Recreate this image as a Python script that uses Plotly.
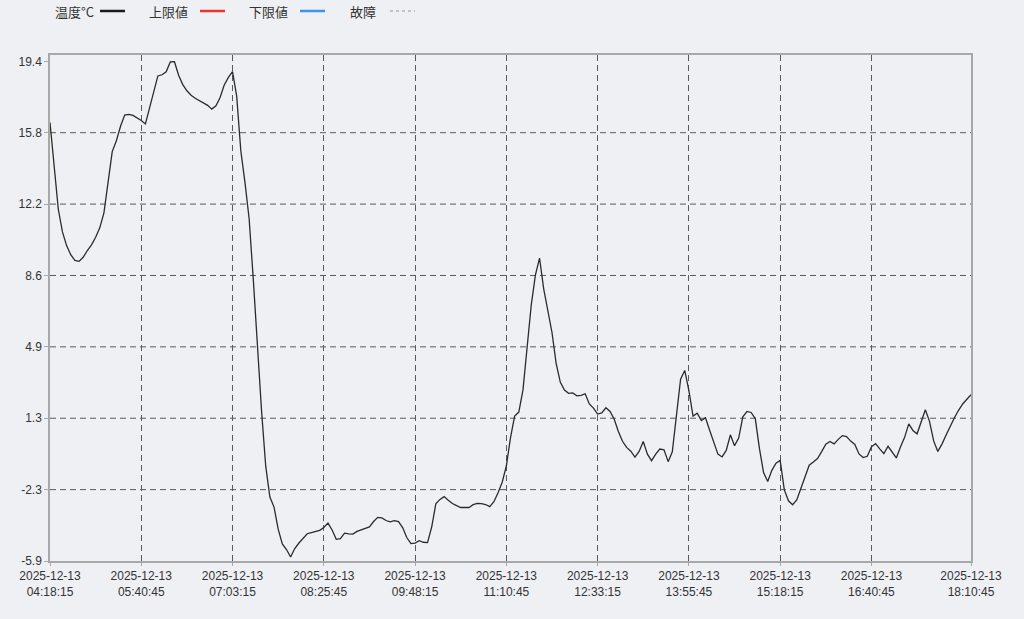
import pandas as pd
import plotly.graph_objects as go

# ---- data ----
start_time = "2025-12-13 04:18:15"
end_time = "2025-12-13 18:10:45"
step_minutes = 3.75

temperature = [
    16.30, 14.27, 11.91, 10.76, 10.07, 9.61, 9.32, 9.27, 9.48, 9.82,
    10.11, 10.49, 10.97, 11.73, 13.30, 14.83, 15.38, 16.11, 16.68, 16.71,
    16.66, 16.54, 16.40, 16.23, 17.03, 17.97, 18.66, 18.72, 18.87, 19.37,
    19.38, 18.70, 18.22, 17.91, 17.68, 17.53, 17.41, 17.29, 17.17, 16.98,
    17.15, 17.57, 18.20, 18.59, 18.88, 17.64, 14.86, 13.26, 11.43, 8.37,
    4.96, 1.68, -1.10, -2.66, -3.17, -4.29, -5.04, -5.32, -5.70, -5.27,
    -4.99, -4.75, -4.52, -4.46, -4.42, -4.35, -4.20, -3.98, -4.33, -4.80,
    -4.77, -4.49, -4.53, -4.54, -4.40, -4.33, -4.28, -4.17, -3.90, -3.69,
    -3.72, -3.85, -3.92, -3.86, -3.91, -4.21, -4.71, -5.02, -4.99, -4.87,
    -4.95, -4.97, -4.18, -3.01, -2.78, -2.64, -2.82, -2.99, -3.10, -3.19,
    -3.19, -3.19, -3.05, -2.98, -2.99, -3.04, -3.15, -2.90, -2.44, -1.91,
    -1.09, 0.35, 1.44, 1.64, 2.75, 5.11, 7.06, 8.57, 9.44, 7.88,
    6.77, 5.67, 4.11, 3.16, 2.76, 2.59, 2.61, 2.46, 2.49, 2.57,
    2.05, 1.84, 1.54, 1.60, 1.86, 1.67, 1.28, 0.66, 0.16, -0.15,
    -0.34, -0.64, -0.35, 0.15, -0.49, -0.82, -0.49, -0.23, -0.27, -0.87,
    -0.37, 1.35, 3.30, 3.75, 2.73, 1.44, 1.58, 1.21, 1.35, 0.72,
    0.11, -0.49, -0.63, -0.30, 0.49, -0.06, 0.32, 1.40, 1.67, 1.62,
    1.31, -0.20, -1.42, -1.87, -1.31, -0.95, -0.81, -2.30, -2.85, -3.05,
    -2.81, -2.25, -1.64, -1.05, -0.89, -0.71, -0.36, 0.01, 0.15, 0.03,
    0.26, 0.45, 0.40, 0.17, 0.00, -0.48, -0.66, -0.60, -0.12, 0.04,
    -0.22, -0.46, -0.09, -0.42, -0.68, -0.13, 0.36, 1.04, 0.71, 0.54,
    1.18, 1.76, 1.17, 0.18, -0.35, 0.02, 0.48, 0.93, 1.35, 1.73,
    2.05, 2.29, 2.52,
]

y_tick_values = [-5.9, -2.3, 1.3, 4.9, 8.6, 12.2, 15.8, 19.4]
y_min, y_max = -5.9, 19.4
y_tick_positions = [y_min + i * (y_max - y_min) / 7 for i in range(8)]

x_tick_times = [
    "2025-12-13 04:18:15", "2025-12-13 05:40:45", "2025-12-13 07:03:15",
    "2025-12-13 08:25:45", "2025-12-13 09:48:15", "2025-12-13 11:10:45",
    "2025-12-13 12:33:15", "2025-12-13 13:55:45", "2025-12-13 15:18:15",
    "2025-12-13 16:40:45", "2025-12-13 18:10:45",
]

legend_names = ["温度°C", "上限値", "下限値", "故障"]
legend_colors = ["#1a1a1a", "#e8332e", "#3d95e8", "#b5b5b5"]
legend_dash = ["solid", "solid", "solid", "dot"]

# ---- figure ----
times = pd.date_range(start=start_time, periods=len(temperature),
                      freq=pd.Timedelta(minutes=step_minutes))

BG = "#eff0f4"
TXT = "#333333"
GRID = "#5a5a5a"
FRAME = "#a8a8a8"
DASH = "6px,4px"
y_range = [y_min, 19.72]

fig = go.Figure()
fig.add_trace(go.Scatter(
    x=times, y=temperature, mode="lines", name=legend_names[0],
    line=dict(color="#2b2b2b", width=1.3), showlegend=False,
))

tick_text = [t.replace(" ", "<br>") for t in x_tick_times]

fig.update_layout(
    width=1024, height=619,
    paper_bgcolor=BG, plot_bgcolor=BG,
    margin=dict(l=50, r=53, t=55, b=58),
    font=dict(family="Liberation Sans, Arial, sans-serif", size=12, color=TXT),
    showlegend=False,
    xaxis=dict(
        type="date",
        range=[start_time, end_time],
        tickmode="array", tickvals=x_tick_times, ticktext=tick_text,
        showgrid=True, gridcolor=GRID, griddash=DASH, gridwidth=1,
        showline=True, linecolor=FRAME, linewidth=1.5, mirror=True,
        ticks="outside", ticklen=3, tickcolor=FRAME,
        zeroline=False,
        tickfont=dict(size=12, color=TXT),
    ),
    yaxis=dict(
        range=y_range,
        tickmode="array", tickvals=y_tick_positions,
        ticktext=[f"{v:.1f}" for v in y_tick_values],
        showgrid=False,
        showline=True, linecolor=FRAME, linewidth=1.5, mirror=True,
        ticks="outside", ticklen=4, tickcolor=FRAME,
        zeroline=False,
        tickfont=dict(size=12, color=TXT),
    ),
)

# horizontal dashed grid lines only at the interior y ticks (none at 19.4)
for yv in y_tick_positions[1:-1]:
    fig.add_hline(y=yv, line=dict(color=GRID, width=1, dash=DASH), layer="below")

# custom legend: text followed by line sample (paper coordinates)
legend_text_right = [96, 190, 290, 378]   # pixel x where text ends
legend_line_start = [100, 200, 300, 390]
legend_line_len = 25
plot_left, plot_w = 50, 921
plot_bottom, plot_h = 561, 506
legend_py = 11

def px_to_paper_x(px):
    return (px - plot_left) / plot_w

def py_to_paper_y(py):
    return (plot_bottom - py) / plot_h

for name, color, dash, tr, ls in zip(legend_names, legend_colors, legend_dash,
                                     legend_text_right, legend_line_start):
    fig.add_annotation(
        x=px_to_paper_x(tr), y=py_to_paper_y(legend_py), xref="paper", yref="paper",
        text=name, showarrow=False, xanchor="right", yanchor="middle",
        font=dict(family="Noto Sans CJK JP, Liberation Sans, sans-serif", size=13, color=TXT),
    )
    fig.add_shape(
        type="line", xref="paper", yref="paper",
        x0=px_to_paper_x(ls), x1=px_to_paper_x(ls + legend_line_len),
        y0=py_to_paper_y(legend_py), y1=py_to_paper_y(legend_py),
        line=dict(color=color, width=2.5 if dash == "solid" else 1.5, dash=dash),
    )

fig.write_html(
    "out.html",
    config={"displayModeBar": False},
    post_script=(
        "document.body.style.margin='0';"
        "document.body.style.background='" + BG + "';"
        "document.body.style.overflow='hidden';"
    ),
)
